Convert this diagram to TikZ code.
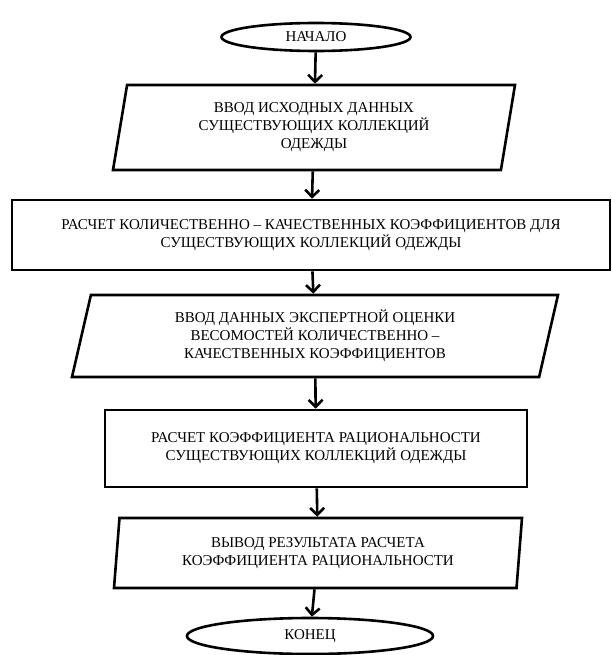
\documentclass[tikz,border=0pt]{standalone}
\usepackage{fontspec}
\setmainfont{Liberation Serif}
\usetikzlibrary{shapes.geometric,arrows.meta}

\begin{document}
\begin{tikzpicture}[x=1pt,y=-1pt,
    every node/.style={font=\fontsize{15}{18}\selectfont,align=center},
    term/.style={draw,line width=2.6pt,ellipse,inner sep=0pt},
    proc/.style={draw,line width=2.6pt,rectangle,inner sep=0pt},
    data/.style={draw,line width=2.6pt,trapezium,trapezium stretches body,inner sep=0pt},
    arr/.style={line width=2.6pt,-{Straight Barb[length=7pt,width=14pt]}}]

            \useasboundingbox (0,0) rectangle (612,655);

            \node[term,minimum width=189,minimum height=28] (a) at (316,37){НАЧАЛО};
            \node[data,minimum width=402,minimum height=85,trapezium left angle=74,trapezium right angle=106] (b) at (314,127.5){ВВОД ИСХОДНЫХ ДАННЫХ\\СУЩЕСТВУЮЩИХ КОЛЛЕКЦИЙ\\ОДЕЖДЫ};
            \node[proc,minimum width=598,minimum height=70] (c) at (311,235){РАСЧЕТ КОЛИЧЕСТВЕННО – КАЧЕСТВЕННЫХ КОЭФФИЦИЕНТОВ ДЛЯ\\СУЩЕСТВУЮЩИХ КОЛЛЕКЦИЙ ОДЕЖДЫ};
            \node[data,minimum width=486,minimum height=82,trapezium left angle=70,trapezium right angle=110] (d) at (315,336){ВВОД ДАННЫХ ЭКСПЕРТНОЙ ОЦЕНКИ\\ВЕСОМОСТЕЙ КОЛИЧЕСТВЕННО –\\КАЧЕСТВЕННЫХ КОЭФФИЦИЕНТОВ};
            \node[proc,minimum width=422,minimum height=77] (e) at (316,448.5){РАСЧЕТ КОЭФФИЦИЕНТА РАЦИОНАЛЬНОСТИ\\СУЩЕСТВУЮЩИХ КОЛЛЕКЦИЙ ОДЕЖДЫ};
            \node[data,minimum width=408,minimum height=70,trapezium left angle=80,trapezium right angle=100] (f) at (318,553){ВЫВОД РЕЗУЛЬТАТА РАСЧЕТА\\КОЭФФИЦИЕНТА РАЦИОНАЛЬНОСТИ};
            \node[term,minimum width=246,minimum height=36] (g) at (310,636){КОНЕЦ};
            \draw[arr] (a)--(b);
            \draw[arr] (b)--(c);
            \draw[arr] (c)--(d);
            \draw[arr] (d)--(e);
            \draw[arr] (e)--(f);
            \draw[arr] (f)--(g);

\end{tikzpicture}
\end{document}
